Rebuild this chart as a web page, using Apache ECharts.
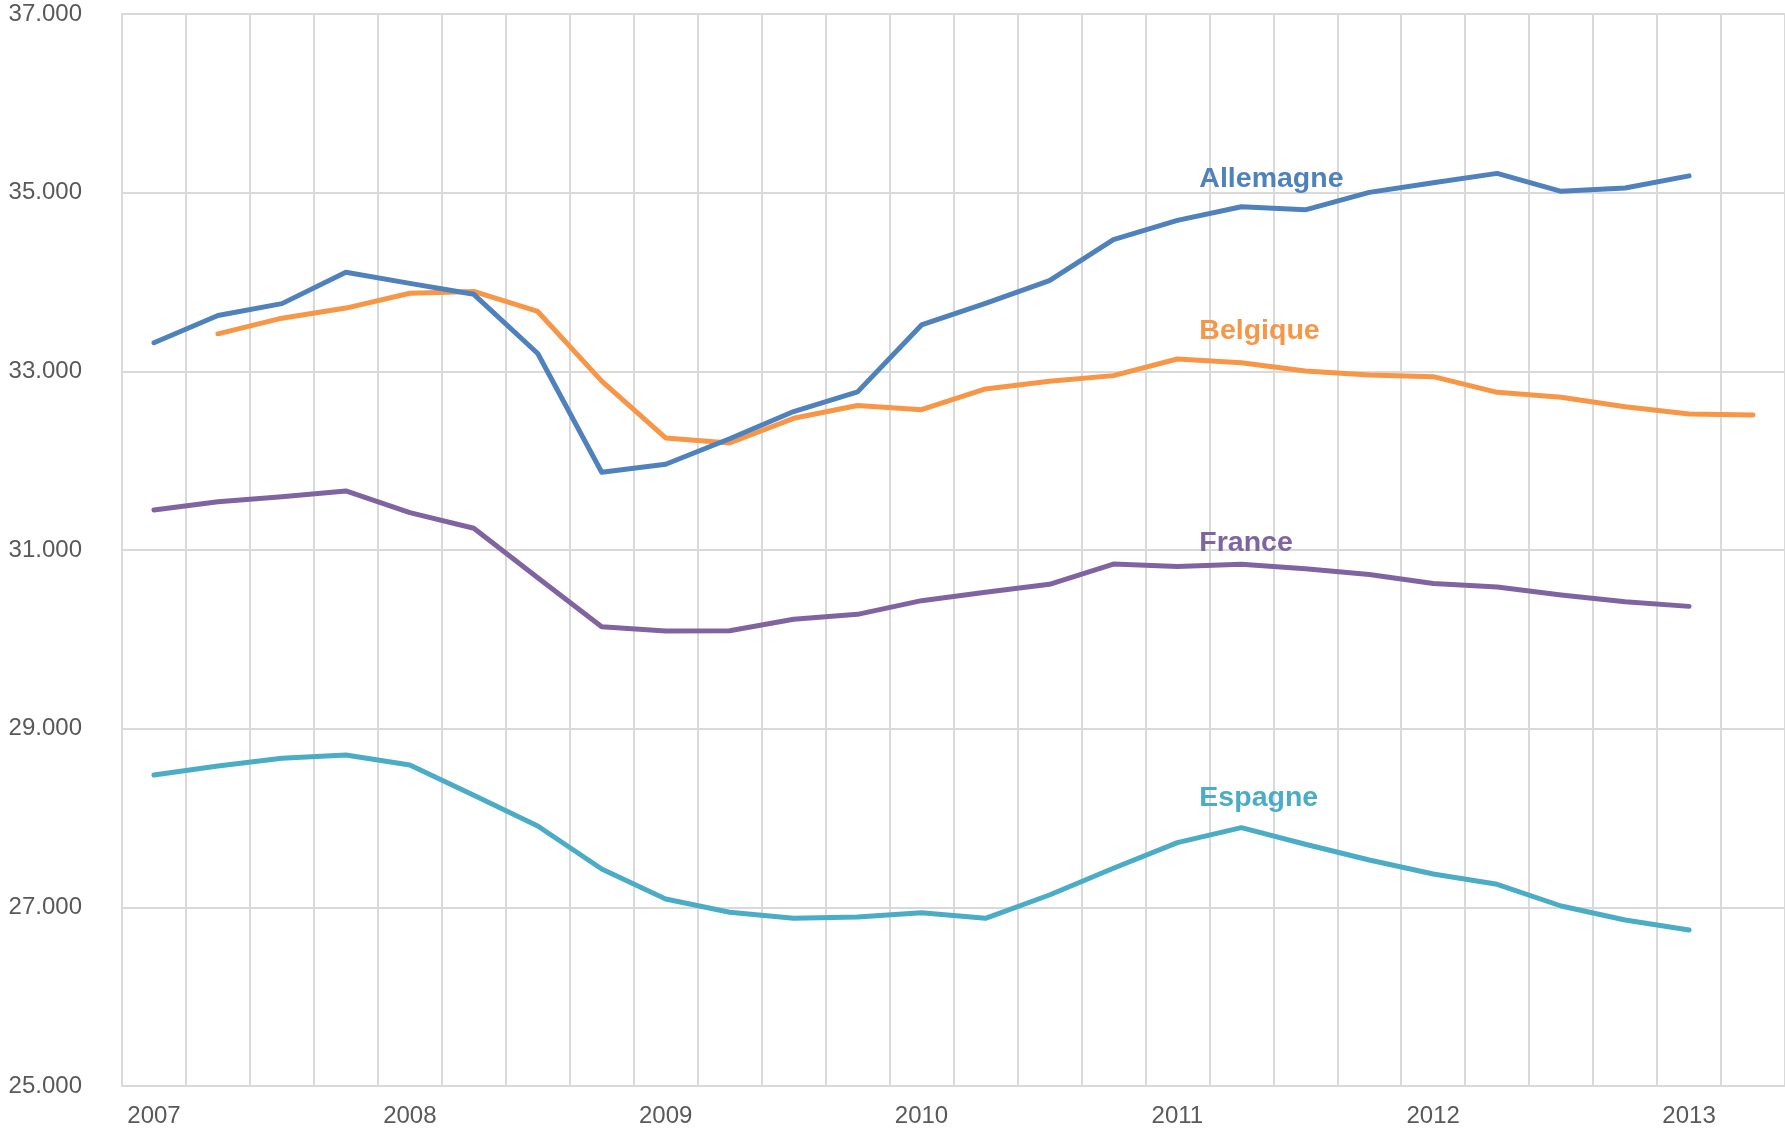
<!DOCTYPE html>
<html>
<head>
<meta charset="utf-8">
<script src="https://cdn.jsdelivr.net/npm/echarts@6/dist/echarts.min.js"></script>
<style>
html,body{margin:0;padding:0;background:#fff;}
#chart{width:1785px;height:1129px;}
</style>
</head>
<body>
<div id="chart"></div>
<script>
const categories = [
  '2007-T1','2007-T2','2007-T3','2007-T4',
  '2008-T1','2008-T2','2008-T3','2008-T4',
  '2009-T1','2009-T2','2009-T3','2009-T4',
  '2010-T1','2010-T2','2010-T3','2010-T4',
  '2011-T1','2011-T2','2011-T3','2011-T4',
  '2012-T1','2012-T2','2012-T3','2012-T4',
  '2013-T1','2013-T2'
];
const allemagne = [33320,33625,33758,34110,33985,33862,33200,31870,31960,32245,32550,32770,33519,33761,34016,34475,34690,34843,34808,35003,35112,35216,35015,35052,35188,null];
const belgique  = [null,33420,33595,33708,33874,33895,33670,32890,32254,32198,32474,32618,32570,32803,32888,32952,33138,33097,33004,32959,32940,32765,32709,32604,32522,32511];
const france    = [31448,31541,31597,31661,31418,31243,30690,30142,30094,30096,30224,30280,30433,30526,30616,30843,30815,30841,30790,30726,30624,30586,30496,30420,30369,null];
const espagne   = [28481,28582,28668,28705,28593,28254,27911,27429,27094,26945,26878,26892,26940,26877,27138,27437,27724,27892,27706,27530,27373,27258,27015,26858,26746,null];
const yTicks = [25000,27000,29000,31000,33000,35000,37000];

const seriesNames = ['Allemagne','Belgique','France','Espagne'];
const colors = ['#4F81BD','#F79646','#8064A2','#4BACC6'];
const labelAnchors = [35147,33451,31078,28218];
const seriesData = [allemagne, belgique, france, espagne];

function fmt(v){
  return String(Math.round(v)).replace(/\B(?=(\d{3})+(?!\d))/g,'.');
}

const chart = echarts.init(document.getElementById('chart'), null, {renderer:'canvas'});
const font = 'Liberation Sans, Arial, sans-serif';
const drawOrder = [1,2,3,0];
const option = {
  animation:false,
  backgroundColor:'#ffffff',
  grid:{left:122,right:0,top:14,bottom:43,containLabel:false},
  xAxis:{
    type:'category',
    data:categories,
    boundaryGap:true,
    axisLine:{show:true,lineStyle:{color:'#D9D9D9',width:2}},
    axisTick:{show:false,interval:0},
    axisLabel:{interval:3,margin:18,color:'#595959',fontSize:24,fontFamily:font,
      formatter:function(v){return v.slice(0,4);}},
    splitLine:{show:true,interval:0,lineStyle:{color:'#D9D9D9',width:2}}
  },
  yAxis:{
    type:'value',
    min:yTicks[0],max:yTicks[yTicks.length-1],interval:2000,
    axisLine:{show:true,lineStyle:{color:'#D9D9D9',width:2}},
    axisTick:{show:false},
    axisLabel:{margin:40,color:'#595959',fontSize:24,fontFamily:font,formatter:fmt},
    splitLine:{show:true,lineStyle:{color:'#D9D9D9',width:2}}
  },
  series: drawOrder.map(function(k){
    return {
      name:seriesNames[k],
      type:'line',
      data:seriesData[k],
      showSymbol:false,
      symbol:'none',
      connectNulls:false,
      lineStyle:{color:colors[k],width:5,cap:'round',join:'round'},
      itemStyle:{color:colors[k]},
      markPoint:{
        symbol:'circle',symbolSize:1,
        itemStyle:{color:'rgba(0,0,0,0)'},
        label:{show:true,position:'inside',align:'left',verticalAlign:'middle',
          offset:[22,0],color:colors[k],fontSize:28.5,fontWeight:'bold',fontFamily:font,
          formatter:seriesNames[k]},
        data:[{coord:[categories[16],labelAnchors[k]]}]
      }
    };
  })
};
chart.setOption(option);
</script>
</body>
</html>
